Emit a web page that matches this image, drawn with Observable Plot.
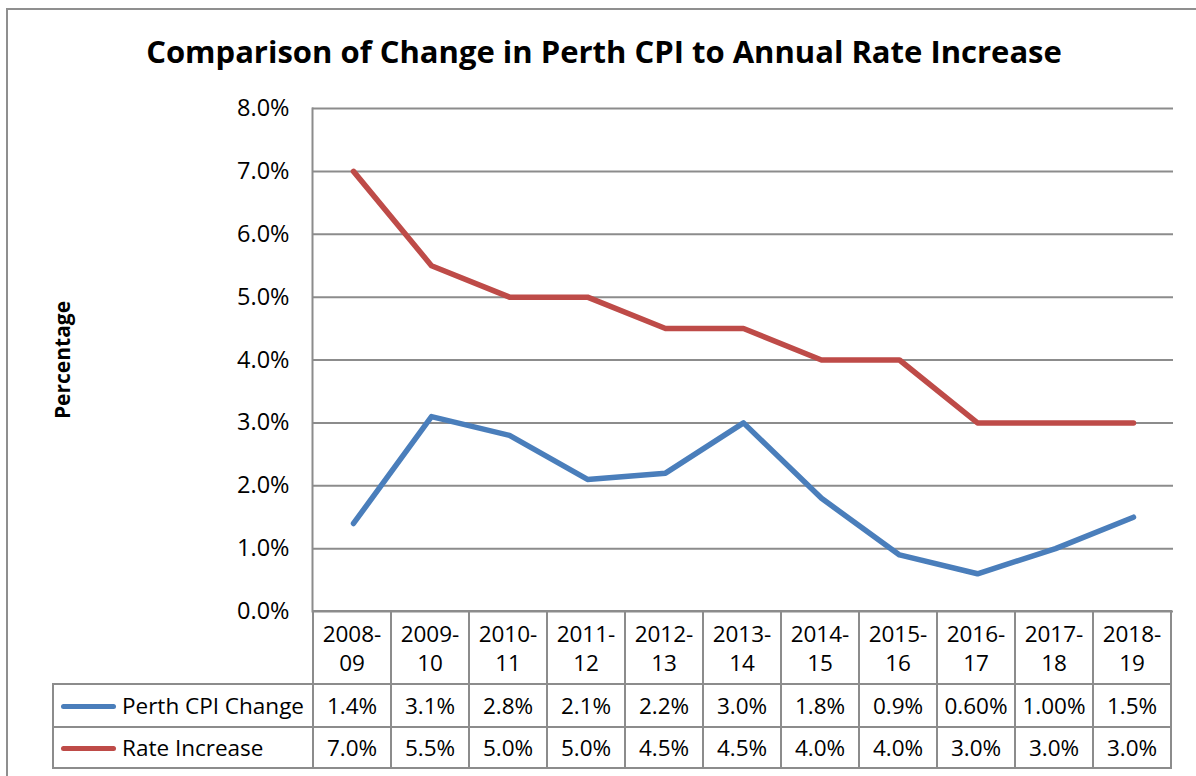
<!DOCTYPE html>
<html><head><meta charset="utf-8">
<script src="https://cdn.jsdelivr.net/npm/d3@7"></script>
<script src="https://cdn.jsdelivr.net/npm/@observablehq/plot@0.6"></script>
<style>
html,body{margin:0;padding:0;background:#fff;}
#chart{position:relative;width:1196px;height:776px;overflow:hidden;font-family:"Open Sans",sans-serif;color:#000;}
#border{position:absolute;left:6px;top:8px;width:1300px;height:900px;border:2px solid #8f8f8f;box-sizing:border-box;}
#title{position:absolute;left:0;top:30px;width:1208px;text-align:center;font-weight:bold;font-size:31px;line-height:42px;white-space:nowrap;}
#ylabel{position:absolute;left:62px;top:360px;transform:translate(-50%,-50%) rotate(-90deg);font-weight:bold;font-size:21px;white-space:nowrap;}
#plot{position:absolute;left:0;top:0;}
#tbl{position:absolute;border-collapse:collapse;table-layout:fixed;}
#tbl td{border:2px solid #8c8c8c;text-align:center;padding:0;font-size:22.5px;white-space:nowrap;}
#tbl td.blank{border-top:none;border-left:none;}
#tbl td.leg{text-align:left;padding-left:7px;}
.sw{display:inline-block;width:55px;height:5px;border-radius:3px;vertical-align:middle;margin-right:6px;position:relative;top:-1px;}
.hdr{line-height:29px;}
</style>
</head><body>
<div id="chart">
  <div id="border"></div>
  <div id="title"></div>
  <div id="ylabel"></div>
  <div id="plot"></div>
  <table id="tbl"></table>
</div>
<script>
const titleText = "Comparison of Change in Perth CPI to Annual Rate Increase";
const yLabelText = "Percentage";
const categories = ["2008-09","2009-10","2010-11","2011-12","2012-13","2013-14","2014-15","2015-16","2016-17","2017-18","2018-19"];
const cpiValues = [1.4,3.1,2.8,2.1,2.2,3.0,1.8,0.9,0.6,1.0,1.5];
const rateValues = [7.0,5.5,5.0,5.0,4.5,4.5,4.0,4.0,3.0,3.0,3.0];
const cpiLabels = ["1.4%","3.1%","2.8%","2.1%","2.2%","3.0%","1.8%","0.9%","0.60%","1.00%","1.5%"];
const rateLabels = ["7.0%","5.5%","5.0%","5.0%","4.5%","4.5%","4.0%","4.0%","3.0%","3.0%","3.0%"];
const seriesNames = ["Perth CPI Change","Rate Increase"];
const seriesColors = ["#4a7ebb","#be4b48"];
const yTicks = [0,1,2,3,4,5,6,7,8];

document.getElementById("title").textContent = titleText;
document.getElementById("ylabel").textContent = yLabelText;

const rows = [];
categories.forEach((c,i)=>{
  rows.push({cat:c, value:cpiValues[i], series:seriesNames[0]});
});
categories.forEach((c,i)=>{
  rows.push({cat:c, value:rateValues[i], series:seriesNames[1]});
});

const W = 1196, H = 776;
const plot = Plot.plot({
  width: W, height: H,
  marginLeft: 312, marginRight: 23, marginTop: 108, marginBottom: 165,
  style: {fontFamily: '"Open Sans", sans-serif', fontSize: "23.5px", color: "#000", background: "transparent", overflow: "visible"},
  x: {type: "band", domain: categories, padding: 0, axis: null},
  y: {domain: [0, 8], axis: null},
  color: {domain: seriesNames, range: seriesColors},
  marks: [
    Plot.ruleY(yTicks, {stroke: "#8c8c8c", strokeWidth: 2, strokeOpacity: 1}),
    Plot.frame({anchor: "left", stroke: "#8c8c8c", strokeWidth: 2, strokeOpacity: 1}),
    Plot.axisY({ticks: yTicks, label: null, tickSize: 0, tickPadding: 23, tickFormat: d => d.toFixed(1) + "%", fontSize: 23.5, fill: "#000"}),
    Plot.line(rows, {x: "cat", y: "value", z: "series", stroke: "series", strokeWidth: 5.5, strokeLinejoin: "round", strokeLinecap: "round"})
  ]
});
document.getElementById("plot").appendChild(plot);

// data table aligned with the band scale
const xs = plot.scale("x");
const bw = xs.bandwidth;
const x0 = xs.range[0];
const legLeft = 52;
const tbl = d3.select("#tbl").style("left", legLeft + "px").style("top", (H - 165 - 1) + "px");
const cg = tbl.append("colgroup");
cg.append("col").style("width", (x0 - legLeft) + "px");
categories.forEach(() => cg.append("col").style("width", bw + "px"));
const hr = tbl.append("tr").style("height", "73px");
hr.append("td").attr("class", "blank");
categories.forEach(c => {
  const [a, b] = c.split("-");
  hr.append("td").attr("class", "hdr").html(a + "-<br>" + b);
});
const labelRows = [cpiLabels, rateLabels];
const rowH = [43, 41];
labelRows.forEach((labs, r) => {
  const tr = tbl.append("tr").style("height", rowH[r] + "px");
  const lc = tr.append("td").attr("class", "leg");
  lc.append("span").attr("class", "sw").style("background", seriesColors[r]);
  lc.append("span").text(seriesNames[r]);
  labs.forEach(l => tr.append("td").text(l));
});
</script>
</body></html>
